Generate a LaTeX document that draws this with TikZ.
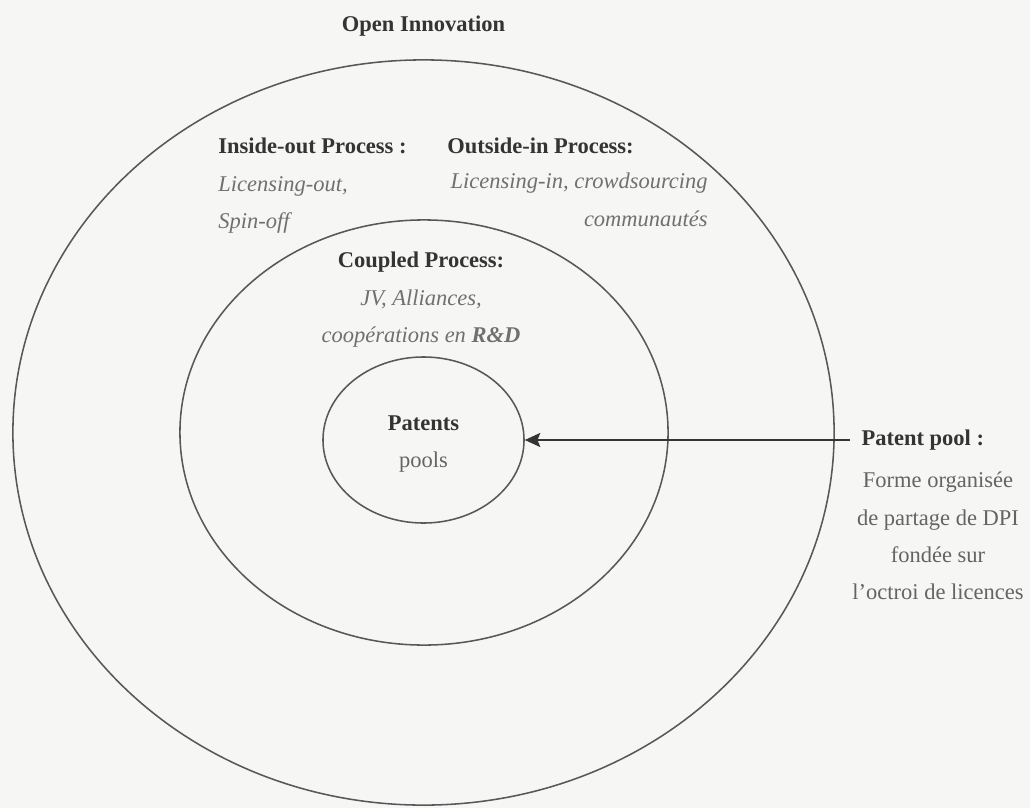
\documentclass[tikz,border=0pt]{standalone}
\usepackage{fontspec}
\setmainfont{Liberation Serif}
\usetikzlibrary{shapes.geometric,arrows.meta}
\definecolor{paper}{RGB}{246,246,245}
\definecolor{ringgray}{RGB}{88,88,88}
\definecolor{ink}{RGB}{52,52,52}
\definecolor{soft}{RGB}{112,112,112}
\newcommand{\procitem}[1]{\textcolor{soft}{\itshape #1}}
\begin{document}
\begin{tikzpicture}[x=0.025cm,y=-0.025cm,
    ring/.style={draw=ringgray,line width=1.1pt,ellipse,inner sep=0pt},
    plaintext/.style={inner sep=0pt,text=ink,font=\fontsize{16}{26.5}\selectfont},
    pointer/.style={-{Stealth[length=11pt,width=10pt,inset=2pt]},draw=ink,line width=1.3pt}]
    \useasboundingbox (0,0) rectangle (1030,808);
    \fill[paper] (0,0) rectangle (1030,808);

    \node[ring,minimum width=20.525cm,minimum height=18.625cm] (openring) at (423.5,432.5) {};
    \node[ring,minimum width=12.2cm,minimum height=10.625cm] (coupledring) at (424,432.5) {};
    \node[ring,minimum width=5.025cm,minimum height=4.15cm] (patents) at (423.5,440) {};
    \node[plaintext,align=center] (patentslabel) at (423.5,444) {\textbf{Patents}\\\textcolor{soft!80!ink}{pools}};

    \node[plaintext,anchor=base] (openinnov) at (423.5,32) {\textbf{Open Innovation}};
    \node[plaintext,anchor=north west,align=left] (insideout) at (218,138) {\textbf{Inside-out Process :}\\\procitem{Licensing-out,}\\\procitem{Spin-off}};
    \node[plaintext,anchor=north west] (outsidein) at (447,138) {\textbf{Outside-in Process:}};
    \node[plaintext,anchor=north east,align=right] (outsideinlist) at (708,173) {\procitem{Licensing-in, crowdsourcing}\\\procitem{communautés}};
    \node[plaintext,anchor=north,align=center] (coupled) at (421,252) {\textbf{Coupled Process:}\\\procitem{JV, Alliances,}\\\procitem{coopérations en \textbf{R\&D}}};

    \node[plaintext,anchor=west,inner xsep=8pt] (pooltitle) at (850,440) {\textbf{Patent pool :}};
    \node[plaintext,anchor=north,align=center,text=soft!80!ink] (pooldesc) at (938,472) {Forme organisée\\de partage de DPI\\fondée sur\\l'octroi de licences};

    \draw[pointer] (pooltitle.west) -- (patents.east);
\end{tikzpicture}
\end{document}
